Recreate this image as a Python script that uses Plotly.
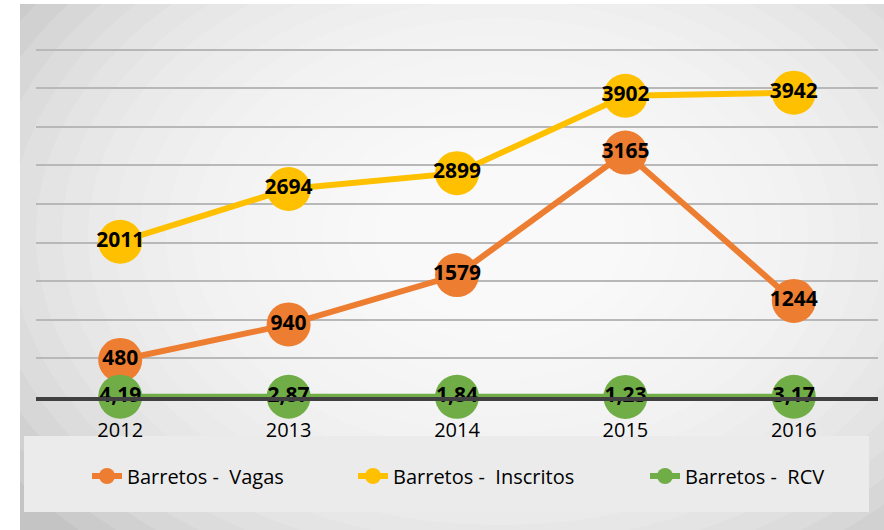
import plotly.graph_objects as go

# ---- data ----
years = ["2012", "2013", "2014", "2015", "2016"]
vagas = [480, 940, 1579, 3165, 1244]
inscritos = [2011, 2694, 2899, 3902, 3942]
rcv = [4.19, 2.87, 1.84, 1.23, 3.17]
series_names = ["Barretos - \u00a0Vagas", "Barretos - \u00a0Inscritos", "Barretos - \u00a0RCV"]
series_colors = ["#ED7D31", "#FFC000", "#70AD47"]

# ---- geometry ----
W, H = 884, 530
L, R, T, B = 36, 6, 48, 133
pw = W - L - R
ph = H - T - B
YMAX = 4520


def px_x(px):
    return (px - L) / pw


def px_y(py):
    return (H - B - py) / ph


fig = go.Figure()

formats = ["%{y:.0f}", "%{y:.0f}", "%{y:.2f}"]
legend_widths = [221, 247, 150]
for name, vals, col, fmt, lw in zip(series_names, [vagas, inscritos, rcv],
                                    series_colors, formats, legend_widths):
    fig.add_trace(go.Scatter(
        x=years, y=vals, name=name,
        mode="lines+markers+text",
        line=dict(color=col, width=6),
        marker=dict(color=col, size=44),
        texttemplate=fmt,
        textposition="middle center",
        textfont=dict(family="Open Sans", size=21, color="black", weight="bold"),
        cliponaxis=False,
        hoverinfo="skip",
        legendwidth=lw,
    ))

shapes = []
# chart-area base (gray)
shapes.append(dict(type="rect", xref="paper", yref="paper", layer="below",
                   x0=px_x(20), x1=px_x(890), y0=px_y(540), y1=px_y(4),
                   fillcolor="#c4c4c4", line=dict(width=0)))
# radial gradient approximation
cx, cy = 500, 235
N = 22
for i in range(N):
    k = 1.35 - i * (1.3 / N)
    rx, ry = 440 * k, 310 * k
    shapes.append(dict(type="circle", xref="paper", yref="paper", layer="below",
                       x0=px_x(cx - rx), x1=px_x(cx + rx),
                       y0=px_y(cy + ry), y1=px_y(cy - ry),
                       fillcolor="white", opacity=0.13, line=dict(width=0)))
# white margins outside the chart area
shapes.append(dict(type="rect", xref="paper", yref="paper", layer="below",
                   x0=px_x(-10), x1=px_x(20), y0=px_y(540), y1=px_y(-10),
                   fillcolor="white", line=dict(width=0)))
shapes.append(dict(type="rect", xref="paper", yref="paper", layer="below",
                   x0=px_x(-10), x1=px_x(890), y0=px_y(4), y1=px_y(-10),
                   fillcolor="white", line=dict(width=0)))
# legend box
shapes.append(dict(type="rect", xref="paper", yref="paper", layer="below",
                   x0=px_x(24), x1=px_x(869), y0=px_y(512), y1=px_y(436),
                   fillcolor="#ebebeb", line=dict(width=0)))

fig.update_layout(
    width=W, height=H,
    margin=dict(l=L, r=R, t=T, b=B),
    paper_bgcolor="white",
    plot_bgcolor="rgba(0,0,0,0)",
    separators=", ",
    shapes=shapes,
    showlegend=True,
    legend=dict(orientation="h", x=px_x(87), xanchor="left",
                y=px_y(476), yanchor="middle",
                font=dict(family="Open Sans", size=20, color="black"),
                bgcolor="rgba(0,0,0,0)", itemclick=False),
    xaxis=dict(type="category", range=[-0.5, 4.5], showgrid=False,
               showline=True, linecolor="#404040", linewidth=4,
               ticks="", ticklabelstandoff=12,
               tickfont=dict(family="Open Sans", size=20, color="black"),
               zeroline=False),
    yaxis=dict(range=[0, YMAX], dtick=500, showticklabels=False,
               showgrid=True, gridcolor="#b8b8b8", gridwidth=1.5,
               zeroline=False, showline=False),
)

fig.write_html("out.html", config={"displayModeBar": False},
               post_script="document.body.style.margin='0';")
